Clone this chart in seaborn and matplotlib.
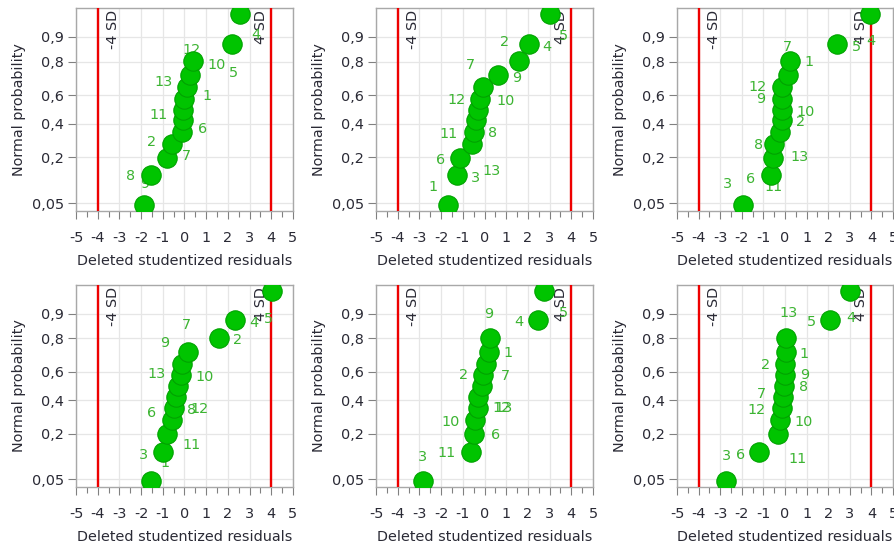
import numpy as np
import pandas as pd
import matplotlib
matplotlib.use("Agg")
import matplotlib.pyplot as plt
import seaborn as sns
from statistics import NormalDist
from matplotlib.ticker import FixedLocator, NullLocator, MultipleLocator

# ---------------- data ----------------
# normal-probability plotting positions (shared by every panel, ranked low -> high)
prob = [0.047, 0.123, 0.198, 0.274, 0.349, 0.425, 0.500, 0.575, 0.651, 0.726, 0.802, 0.877, 0.953]

resid_1 = [-1.86, -1.54, -0.82, -0.58, -0.10, -0.08, -0.06, -0.02, 0.10, 0.24, 0.38, 2.20, 2.54]
runs_1 = ["9", "8", "7", "2", "6", "11", "3", "1", "13", "10", "12", "5", "4"]

resid_2 = [-1.66, -1.28, -1.12, -0.58, -0.48, -0.38, -0.28, -0.20, -0.05, 0.60, 1.57, 2.03, 3.00]
runs_2 = ["1", "3", "6", "13", "11", "8", "12", "10", "7", "9", "2", "4", "5"]

resid_3 = [-1.96, -0.67, -0.56, -0.51, -0.25, -0.16, -0.13, -0.13, -0.16, 0.13, 0.25, 2.39, 3.92]
runs_3 = ["3", "11", "6", "13", "8", "2", "10", "9", "12", "1", "7", "5", "4"]

resid_4 = [-1.55, -1.00, -0.82, -0.58, -0.48, -0.38, -0.28, -0.17, -0.12, 0.15, 1.57, 2.34, 4.03]
runs_4 = ["1", "3", "11", "6", "8", "12", "13", "10", "9", "7", "2", "4", "5"]

resid_5 = [-2.85, -0.63, -0.48, -0.43, -0.32, -0.28, -0.12, -0.05, 0.08, 0.23, 0.26, 2.45, 2.72]
runs_5 = ["3", "11", "6", "10", "12", "13", "7", "2", "1", "8", "9", "4", "5"]

resid_6 = [-2.73, -1.20, -0.31, -0.25, -0.16, -0.10, -0.05, 0.02, 0.02, 0.05, 0.05, 2.09, 3.00]
runs_6 = ["3", "6", "11", "10", "12", "7", "8", "9", "2", "1", "13", "5", "4"]

sd_limits = [-4, 4]
sd_labels = ["-4 SD", "4 SD"]
xticks = [-5, -4, -3, -2, -1, 0, 1, 2, 3, 4, 5]
xtick_labels = ["-5", "-4", "-3", "-2", "-1", "0", "1", "2", "3", "4", "5"]
yticks = [0.05, 0.2, 0.4, 0.6, 0.8, 0.9]
ytick_labels = ["0,05", "0,2", "0,4", "0,6", "0,8", "0,9"]

# ---------------- label placement (pixel offsets, style only) ----------------
offs_1 = [(1, 21), (-21, -1), (20, 2), (-20, 2), (20, 3), (-24, 5), (0, 0), (23, 3), (-23, 5), (27, 10), (-1, 11), (1, -29), (16, -21)]
offs_2 = [(-15, 18), (19, -3), (-20, -2), (20, -27), (-26, -2), (16, -13), (-22, 10), (25, -2), (-13, 22), (19, -3), (-14, 19), (18, -3), (14, -22)]
offs_3 = [(-15, 21), (3, -12), (-22, -21), (26, -13), (-21, -13), (19, -2), (23, -2), (-22, 0), (-24, 0), (21, 13), (-3, 14), (20, -3), (1, -27)]
offs_4 = [(14, 18), (-19, -3), (25, -11), (-20, 7), (17, -2), (23, -12), (-22, 12), (24, -2), (-17, 21), (-1, 27), (19, -2), (19, -3), (-3, -28)]
offs_5 = [(0, 24), (-24, -1), (21, -1), (-25, -2), (24, 0), (25, -11), (24, 10), (-20, 0), (22, 11), (0, 15), (-1, 24), (-19, -2), (20, -22)]
offs_6 = [(0, 25), (-19, -3), (19, -25), (24, -2), (-25, -2), (-21, 3), (20, -1), (19, 0), (-20, -1), (18, -2), (2, 25), (-19, -2), (1, -27)]

panels = [
    (resid_1, runs_1, offs_1),
    (resid_2, runs_2, offs_2),
    (resid_3, runs_3, offs_3),
    (resid_4, runs_4, offs_4),
    (resid_5, runs_5, offs_5),
    (resid_6, runs_6, offs_6),
]

frames = []
for k, (res, runs, _) in enumerate(panels):
    frames.append(pd.DataFrame({"panel": k, "resid": res, "prob": prob, "run": runs}))
df = pd.concat(frames, ignore_index=True)

# ---------------- probit scale ----------------
_nd = NormalDist()


def _probit(v):
    if not (0.0 < v < 1.0):
        v = min(max(v, 1e-9), 1 - 1e-9) if np.isfinite(v) else 0.5
    return _nd.inv_cdf(v)


def _cdf(z):
    if not np.isfinite(z):
        return 1.0 if z > 0 else 0.0
    return _nd.cdf(z)


fwd = np.vectorize(_probit, otypes=[float])
inv = np.vectorize(_cdf, otypes=[float])

# ---------------- style ----------------
sns.set_theme(style="white")
plt.rcParams["font.family"] = ["DejaVu Sans"]
plt.rcParams["axes.unicode_minus"] = False

GREEN_PT = "#00c400"
GREEN_EDGE = "#00a200"
GREEN_TXT = "#3cb432"
TXT = "#2a2a35"
SPINE = "#a8a8a8"
GRID = "#e6e6e6"
FS = 10.4

W, H = 895, 548
fig = plt.figure(figsize=(W / 100, H / 100), dpi=100)

cols_px = [(76, 293), (376, 593), (677, 893)]
rows_px = [(8, 211), (285, 487)]

for k, (res, runs, offs) in enumerate(panels):
    r, c = divmod(k, 3)
    l, rr = cols_px[c]
    t, b = rows_px[r]
    ax = fig.add_axes([l / W, 1 - b / H, (rr - l) / W, (b - t) / H])
    sub = df[df["panel"] == k]

    sns.scatterplot(data=sub, x="resid", y="prob", ax=ax, s=195,
                    color=GREEN_PT, edgecolor=GREEN_EDGE, linewidth=0.8,
                    zorder=5, legend=False)

    ax.set_yscale("function", functions=(fwd, inv))
    ax.set_xlim(-5, 5)
    ax.set_ylim(0.0371, 0.9629)

    # SD limit lines
    for xv in sd_limits:
        ax.axvline(xv, color="#ee0000", lw=1.7, zorder=3)
    ax.annotate(sd_labels[0], xy=(sd_limits[0], 1), xycoords=("data", "axes fraction"),
                xytext=(15, -2), textcoords="offset pixels", rotation=90,
                ha="center", va="top", fontsize=FS, color=TXT, zorder=4)
    ax.annotate(sd_labels[1], xy=(sd_limits[1], 1), xycoords=("data", "axes fraction"),
                xytext=(-10, -2), textcoords="offset pixels", rotation=90,
                ha="center", va="top", fontsize=FS, color=TXT, zorder=4)

    # run labels
    for xv, pv, lab, (dx, dy) in zip(sub["resid"], sub["prob"], sub["run"], offs):
        ax.annotate(lab, xy=(xv, pv), xytext=(dx, dy), textcoords="offset pixels",
                    ha="center", va="center", fontsize=FS, color=GREEN_TXT, zorder=4)

    # axes cosmetics
    ax.xaxis.set_major_locator(FixedLocator(xticks))
    ax.set_xticklabels(xtick_labels)
    ax.xaxis.set_minor_locator(MultipleLocator(0.5))
    ax.yaxis.set_major_locator(FixedLocator(yticks))
    ax.set_yticklabels(ytick_labels)
    ax.yaxis.set_minor_locator(NullLocator())

    ax.grid(True, which="major", color=GRID, lw=0.9, zorder=0)
    ax.set_axisbelow(True)
    for sp in ax.spines.values():
        sp.set_color(SPINE)
        sp.set_linewidth(1.0)
        sp.set_visible(True)

    ax.tick_params(axis="x", which="major", direction="out", length=5.5, width=0.8,
                   color="#808080", pad=9.0, labelsize=FS, labelcolor=TXT, bottom=True)
    ax.tick_params(axis="x", which="minor", direction="out", length=4, width=0.8,
                   color="#808080", bottom=True)
    ax.tick_params(axis="y", which="major", direction="out", length=5.5, width=0.8,
                   color="#808080", pad=3.0, labelsize=FS, labelcolor=TXT, left=True)

    ax.set_xlabel("Deleted studentized residuals", fontsize=FS, color=TXT)
    ax.set_ylabel("Normal probability", fontsize=FS, color=TXT)
    ax.xaxis.set_label_coords(0.5, -(43 / (b - t)))
    ax.yaxis.set_label_coords(-(50 / (rr - l)), 0.5)

fig.savefig("out.png", dpi=100)
